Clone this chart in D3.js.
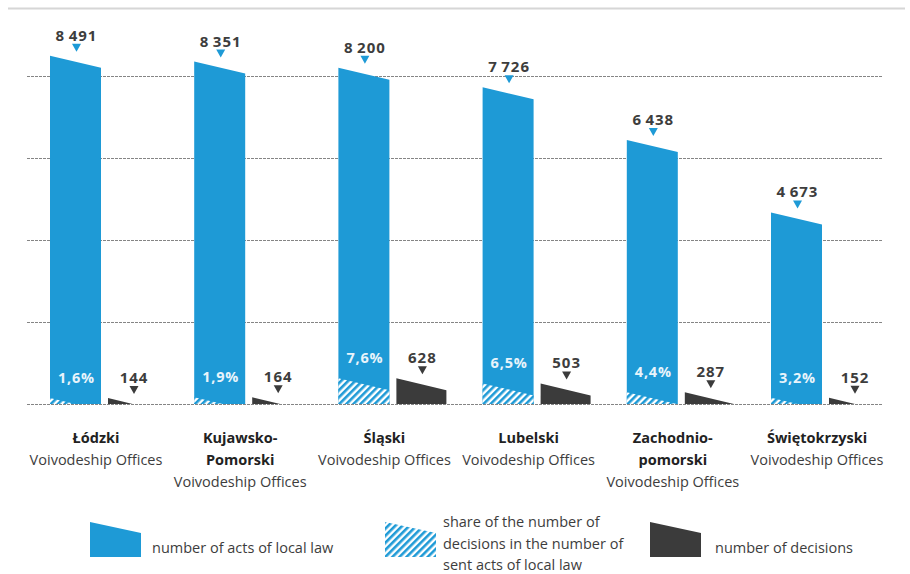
<!DOCTYPE html>
<html>
<head>
<meta charset="utf-8">
<script src="https://cdn.jsdelivr.net/npm/d3@7"></script>
<style>
  body { margin: 0; background: #fff; }
  svg text { font-family: "Open Sans", "Segoe UI", sans-serif; }
</style>
</head>
<body>
<div id="chart"></div>
<script>
// --- data ---
const regions = ['Łódzki', 'Kujawsko-Pomorski', 'Śląski', 'Lubelski', 'Zachodnio-pomorski', 'Świętokrzyski'];
const regionLines = [['Łódzki'], ['Kujawsko-', 'Pomorski'], ['Śląski'], ['Lubelski'], ['Zachodnio-', 'pomorski'], ['Świętokrzyski']];
const subLabel = 'Voivodeship Offices';
const actsOfLaw = [8491, 8351, 8200, 7726, 6438, 4673];
const decisions = [144, 164, 628, 503, 287, 152];
const sharePct = [1.6, 1.9, 7.6, 6.5, 4.4, 3.2];
const gridTicks = [0, 2000, 4000, 6000, 8000];
const legendLabels = [
  ['number of acts of local law'],
  ['share of the number of', 'decisions in the number of', 'sent acts of local law'],
  ['number of decisions']
];

const BLUE = '#1e9ad6';
const DARK = '#3b3b3b';
const TEXT = '#3d3d3d';
const SLANT = 12;   // how far the right edge of a bar top drops, px

const locale = d3.formatLocale({ decimal: ',', thousands: '\u2009', grouping: [3], currency: ['', ''] });
const fmtInt = locale.format(',d');
const fmtPct = d => locale.format('.1f')(d) + '%';

const width = 910, height = 574;
const baseY = 404;

const svg = d3.select('#chart').append('svg')
  .attr('width', width)
  .attr('height', height);

// hatch pattern for the share part
const pat = svg.append('defs').append('pattern')
  .attr('id', 'hatch')
  .attr('patternUnits', 'userSpaceOnUse')
  .attr('width', 5).attr('height', 5)
  .attr('patternTransform', 'rotate(45)');
pat.append('rect').attr('width', 5).attr('height', 5).attr('fill', '#fff');
pat.append('rect').attr('width', 2.6).attr('height', 5).attr('fill', BLUE);

const x = d3.scaleBand()
  .domain(regions)
  .range([50, 50 + 144.2 * regions.length]);

const y = d3.scaleLinear()
  .domain([0, 8000])
  .range([baseY, 76]);

const barW = 51;
const darkOffset = 58;

// slanted-top bar shape; turns into a wedge when it is lower than the slant
function slantPath(x0, w, top, slant) {
  const h = baseY - top;
  if (h >= slant) return `M${x0},${baseY}V${top}L${x0 + w},${top + slant}V${baseY}Z`;
  return `M${x0},${baseY}V${top}L${x0 + w * h / slant},${baseY}Z`;
}

// top frame line
svg.append('line')
  .attr('x1', 8).attr('x2', 905)
  .attr('y1', 8.5).attr('y2', 8.5)
  .attr('stroke', '#d6d6d6')
  .attr('stroke-width', 2);

// dotted grid
svg.append('g')
  .selectAll('line')
  .data(gridTicks)
  .join('line')
  .attr('x1', 27).attr('x2', 883)
  .attr('y1', d => Math.round(y(d)) + 0.5)
  .attr('y2', d => Math.round(y(d)) + 0.5)
  .attr('stroke', '#858585')
  .attr('stroke-dasharray', '3,1');

const groups = svg.append('g')
  .selectAll('g')
  .data(regions)
  .join('g')
  .attr('transform', d => `translate(${x(d)},0)`);

// blue bars
groups.append('path')
  .attr('d', (d, i) => slantPath(0, barW, y(actsOfLaw[i]), SLANT))
  .attr('fill', BLUE);

// hatched share at the foot of the blue bar
groups.append('path')
  .attr('d', (d, i) => slantPath(0, barW, y(decisions[i]), SLANT))
  .attr('fill', 'url(#hatch)');

// dark bars
groups.append('path')
  .attr('d', (d, i) => slantPath(darkOffset, barW - 1, y(decisions[i]), SLANT))
  .attr('fill', DARK);

// value labels with small pointer triangles
function pointer(sel, cx, ty, color) {
  sel.append('path')
    .attr('d', `M${cx - 4.5},${ty}h9l-4.5,8Z`)
    .attr('fill', color);
}

groups.each(function (d, i) {
  const g = d3.select(this);
  const cBlue = barW / 2;
  const cDark = darkOffset + (barW - 1) / 2;

  const tBlue = y(actsOfLaw[i]) - 15;
  g.append('text')
    .attr('x', cBlue + 1).attr('y', tBlue)
    .attr('text-anchor', 'middle')
    .attr('font-size', 15).attr('font-weight', 700)
    .attr('letter-spacing', 1)
    .attr('fill', TEXT)
    .text(fmtInt(actsOfLaw[i]));
  pointer(g, cBlue + 1, tBlue + 3, BLUE);

  const tDark = y(decisions[i]) - 15;
  g.append('text')
    .attr('x', cDark + 1).attr('y', tDark)
    .attr('text-anchor', 'middle')
    .attr('font-size', 15).attr('font-weight', 700)
    .attr('letter-spacing', 1)
    .attr('fill', TEXT)
    .text(fmtInt(decisions[i]));
  pointer(g, cDark + 1, tDark + 3, DARK);

  g.append('text')
    .attr('x', cBlue + 1).attr('y', tDark)
    .attr('text-anchor', 'middle')
    .attr('font-size', 14.5).attr('font-weight', 700)
    .attr('letter-spacing', 0.8)
    .attr('fill', '#e8f4fb')
    .text(fmtPct(sharePct[i]));

  // category labels
  const lines = regionLines[i];
  const lab = g.append('text')
    .attr('text-anchor', 'middle')
    .attr('font-size', 14.5)
    .attr('fill', TEXT);
  lines.forEach((ln, k) => {
    lab.append('tspan')
      .attr('x', 46).attr('y', 443 + k * 22)
      .attr('font-weight', 700)
      .attr('fill', '#222')
      .text(ln);
  });
  lab.append('tspan')
    .attr('x', 46).attr('y', 443 + lines.length * 22)
    .text(subLabel);
});

// legend
const legend = svg.append('g');
const legendX = [90, 385, 650];
const legendFill = [BLUE, 'url(#hatch)', DARK];
const legendTextX = [152, 443, 715];

legendLabels.forEach((lines, i) => {
  legend.append('path')
    .attr('d', `M${legendX[i]},557V522L${legendX[i] + 51},533V557Z`)
    .attr('fill', legendFill[i]);
  const t = legend.append('text')
    .attr('font-size', 14.5)
    .attr('fill', TEXT);
  const y0 = lines.length === 1 ? 553 : 527;
  lines.forEach((ln, k) => {
    t.append('tspan')
      .attr('x', legendTextX[i])
      .attr('y', y0 + k * 21.5)
      .text(ln);
  });
});
</script>
</body>
</html>
